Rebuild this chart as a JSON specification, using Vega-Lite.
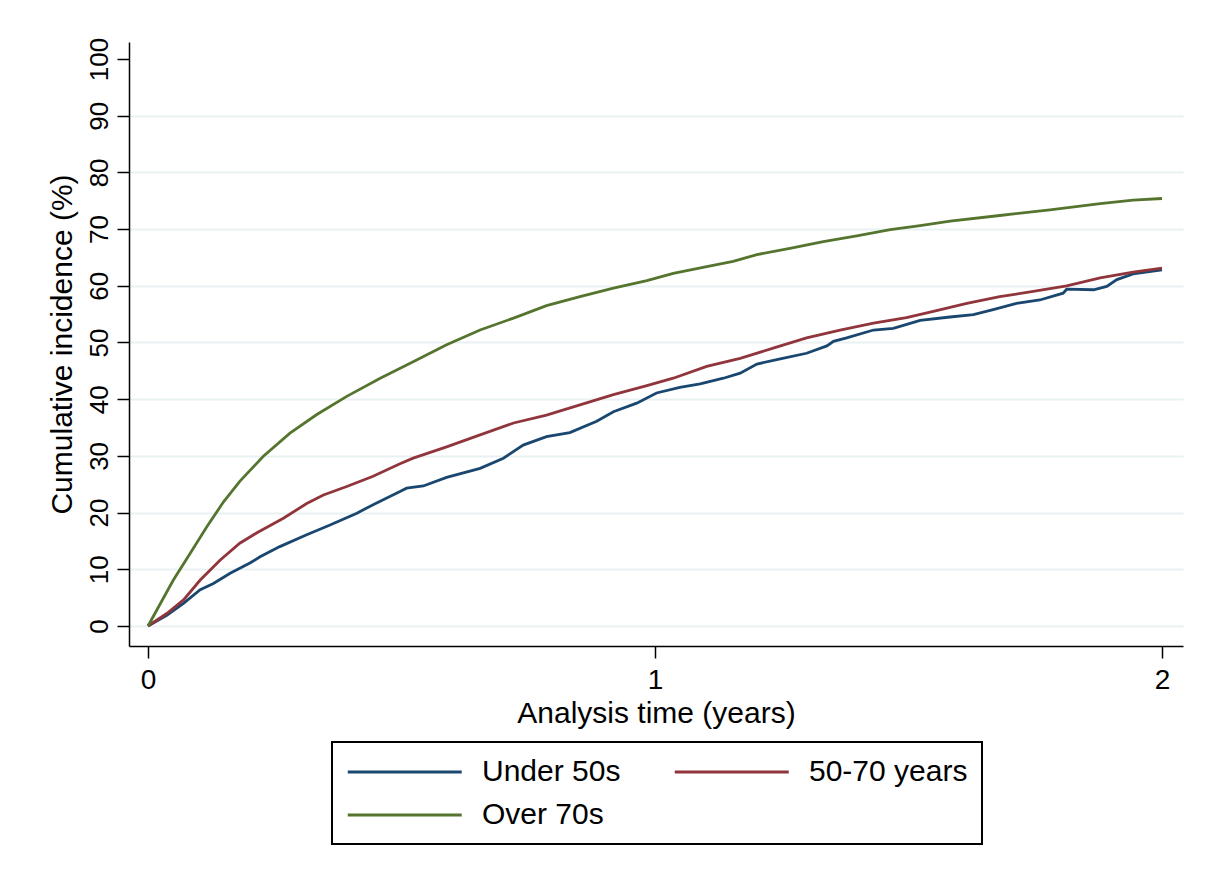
{
  "$schema": "https://vega.github.io/schema/vega-lite/v6.json",
  "width": 1054,
  "height": 604,
  "autosize": {"type": "none"},
  "padding": {"left": 129, "top": 42, "right": 29, "bottom": 234},
  "background": "white",
  "config": {
    "view": {"stroke": null},
    "font": "Liberation Sans",
    "axis": {"labelFont": "Liberation Sans", "titleFont": "Liberation Sans", "labelColor": "black", "titleColor": "black", "titleFontWeight": "normal"},
    "legend": {"labelFont": "Liberation Sans"}
  },
  "datasets": {
    "curves": [
      {"t": 0, "ci": 0, "g": "Under 50s"},
      {"t": 0.037, "ci": 1.9, "g": "Under 50s"},
      {"t": 0.070, "ci": 4.0, "g": "Under 50s"},
      {"t": 0.103, "ci": 6.4, "g": "Under 50s"},
      {"t": 0.129, "ci": 7.5, "g": "Under 50s"},
      {"t": 0.162, "ci": 9.3, "g": "Under 50s"},
      {"t": 0.201, "ci": 11.1, "g": "Under 50s"},
      {"t": 0.221, "ci": 12.2, "g": "Under 50s"},
      {"t": 0.260, "ci": 14.0, "g": "Under 50s"},
      {"t": 0.313, "ci": 16.1, "g": "Under 50s"},
      {"t": 0.359, "ci": 17.8, "g": "Under 50s"},
      {"t": 0.412, "ci": 19.9, "g": "Under 50s"},
      {"t": 0.444, "ci": 21.4, "g": "Under 50s"},
      {"t": 0.497, "ci": 23.7, "g": "Under 50s"},
      {"t": 0.510, "ci": 24.3, "g": "Under 50s"},
      {"t": 0.543, "ci": 24.7, "g": "Under 50s"},
      {"t": 0.589, "ci": 26.2, "g": "Under 50s"},
      {"t": 0.655, "ci": 27.8, "g": "Under 50s"},
      {"t": 0.701, "ci": 29.6, "g": "Under 50s"},
      {"t": 0.740, "ci": 31.9, "g": "Under 50s"},
      {"t": 0.786, "ci": 33.4, "g": "Under 50s"},
      {"t": 0.832, "ci": 34.1, "g": "Under 50s"},
      {"t": 0.885, "ci": 36.1, "g": "Under 50s"},
      {"t": 0.918, "ci": 37.8, "g": "Under 50s"},
      {"t": 0.964, "ci": 39.3, "g": "Under 50s"},
      {"t": 1.003, "ci": 41.1, "g": "Under 50s"},
      {"t": 1.049, "ci": 42.1, "g": "Under 50s"},
      {"t": 1.089, "ci": 42.7, "g": "Under 50s"},
      {"t": 1.135, "ci": 43.7, "g": "Under 50s"},
      {"t": 1.168, "ci": 44.6, "g": "Under 50s"},
      {"t": 1.201, "ci": 46.2, "g": "Under 50s"},
      {"t": 1.247, "ci": 47.1, "g": "Under 50s"},
      {"t": 1.299, "ci": 48.1, "g": "Under 50s"},
      {"t": 1.339, "ci": 49.4, "g": "Under 50s"},
      {"t": 1.352, "ci": 50.2, "g": "Under 50s"},
      {"t": 1.378, "ci": 50.8, "g": "Under 50s"},
      {"t": 1.431, "ci": 52.2, "g": "Under 50s"},
      {"t": 1.470, "ci": 52.5, "g": "Under 50s"},
      {"t": 1.523, "ci": 53.9, "g": "Under 50s"},
      {"t": 1.582, "ci": 54.5, "g": "Under 50s"},
      {"t": 1.628, "ci": 54.9, "g": "Under 50s"},
      {"t": 1.667, "ci": 55.8, "g": "Under 50s"},
      {"t": 1.713, "ci": 56.9, "g": "Under 50s"},
      {"t": 1.759, "ci": 57.5, "g": "Under 50s"},
      {"t": 1.805, "ci": 58.7, "g": "Under 50s"},
      {"t": 1.812, "ci": 59.4, "g": "Under 50s"},
      {"t": 1.865, "ci": 59.3, "g": "Under 50s"},
      {"t": 1.891, "ci": 59.9, "g": "Under 50s"},
      {"t": 1.911, "ci": 61.1, "g": "Under 50s"},
      {"t": 1.943, "ci": 62.1, "g": "Under 50s"},
      {"t": 2.0, "ci": 62.8, "g": "Under 50s"},
      {"t": 0, "ci": 0, "g": "50-70 years"},
      {"t": 0.037, "ci": 2.2, "g": "50-70 years"},
      {"t": 0.070, "ci": 4.6, "g": "50-70 years"},
      {"t": 0.103, "ci": 8.1, "g": "50-70 years"},
      {"t": 0.142, "ci": 11.6, "g": "50-70 years"},
      {"t": 0.181, "ci": 14.6, "g": "50-70 years"},
      {"t": 0.214, "ci": 16.4, "g": "50-70 years"},
      {"t": 0.267, "ci": 19.0, "g": "50-70 years"},
      {"t": 0.313, "ci": 21.6, "g": "50-70 years"},
      {"t": 0.346, "ci": 23.1, "g": "50-70 years"},
      {"t": 0.392, "ci": 24.6, "g": "50-70 years"},
      {"t": 0.444, "ci": 26.4, "g": "50-70 years"},
      {"t": 0.497, "ci": 28.6, "g": "50-70 years"},
      {"t": 0.523, "ci": 29.6, "g": "50-70 years"},
      {"t": 0.589, "ci": 31.6, "g": "50-70 years"},
      {"t": 0.655, "ci": 33.7, "g": "50-70 years"},
      {"t": 0.721, "ci": 35.8, "g": "50-70 years"},
      {"t": 0.786, "ci": 37.2, "g": "50-70 years"},
      {"t": 0.852, "ci": 39.0, "g": "50-70 years"},
      {"t": 0.918, "ci": 40.8, "g": "50-70 years"},
      {"t": 0.984, "ci": 42.4, "g": "50-70 years"},
      {"t": 1.036, "ci": 43.7, "g": "50-70 years"},
      {"t": 1.102, "ci": 45.8, "g": "50-70 years"},
      {"t": 1.168, "ci": 47.2, "g": "50-70 years"},
      {"t": 1.233, "ci": 49.0, "g": "50-70 years"},
      {"t": 1.299, "ci": 50.8, "g": "50-70 years"},
      {"t": 1.365, "ci": 52.2, "g": "50-70 years"},
      {"t": 1.431, "ci": 53.4, "g": "50-70 years"},
      {"t": 1.496, "ci": 54.4, "g": "50-70 years"},
      {"t": 1.549, "ci": 55.5, "g": "50-70 years"},
      {"t": 1.615, "ci": 56.9, "g": "50-70 years"},
      {"t": 1.680, "ci": 58.1, "g": "50-70 years"},
      {"t": 1.746, "ci": 59.0, "g": "50-70 years"},
      {"t": 1.812, "ci": 60.0, "g": "50-70 years"},
      {"t": 1.878, "ci": 61.4, "g": "50-70 years"},
      {"t": 1.943, "ci": 62.4, "g": "50-70 years"},
      {"t": 2.0, "ci": 63.1, "g": "50-70 years"},
      {"t": 0, "ci": 0, "g": "Over 70s"},
      {"t": 0.05, "ci": 8.1, "g": "Over 70s"},
      {"t": 0.083, "ci": 12.8, "g": "Over 70s"},
      {"t": 0.116, "ci": 17.5, "g": "Over 70s"},
      {"t": 0.149, "ci": 21.9, "g": "Over 70s"},
      {"t": 0.181, "ci": 25.5, "g": "Over 70s"},
      {"t": 0.227, "ci": 29.9, "g": "Over 70s"},
      {"t": 0.280, "ci": 34.0, "g": "Over 70s"},
      {"t": 0.333, "ci": 37.3, "g": "Over 70s"},
      {"t": 0.392, "ci": 40.5, "g": "Over 70s"},
      {"t": 0.458, "ci": 43.7, "g": "Over 70s"},
      {"t": 0.523, "ci": 46.6, "g": "Over 70s"},
      {"t": 0.589, "ci": 49.6, "g": "Over 70s"},
      {"t": 0.655, "ci": 52.2, "g": "Over 70s"},
      {"t": 0.721, "ci": 54.3, "g": "Over 70s"},
      {"t": 0.786, "ci": 56.5, "g": "Over 70s"},
      {"t": 0.852, "ci": 58.1, "g": "Over 70s"},
      {"t": 0.918, "ci": 59.6, "g": "Over 70s"},
      {"t": 0.984, "ci": 60.9, "g": "Over 70s"},
      {"t": 1.036, "ci": 62.2, "g": "Over 70s"},
      {"t": 1.102, "ci": 63.4, "g": "Over 70s"},
      {"t": 1.154, "ci": 64.3, "g": "Over 70s"},
      {"t": 1.201, "ci": 65.5, "g": "Over 70s"},
      {"t": 1.266, "ci": 66.6, "g": "Over 70s"},
      {"t": 1.332, "ci": 67.8, "g": "Over 70s"},
      {"t": 1.398, "ci": 68.8, "g": "Over 70s"},
      {"t": 1.464, "ci": 69.9, "g": "Over 70s"},
      {"t": 1.523, "ci": 70.6, "g": "Over 70s"},
      {"t": 1.582, "ci": 71.4, "g": "Over 70s"},
      {"t": 1.680, "ci": 72.4, "g": "Over 70s"},
      {"t": 1.779, "ci": 73.4, "g": "Over 70s"},
      {"t": 1.878, "ci": 74.5, "g": "Over 70s"},
      {"t": 1.943, "ci": 75.1, "g": "Over 70s"},
      {"t": 2.0, "ci": 75.4, "g": "Over 70s"}
    ]
  },
  "data": {"name": "curves"},
  "mark": {"type": "line", "strokeWidth": 2.8, "interpolate": "linear"},
  "encoding": {
    "x": {
      "field": "t", "type": "quantitative",
      "scale": {"domain": [-0.0375, 2.0414], "nice": false, "zero": false},
      "axis": {
        "title": "Analysis time (years)", "titleFontSize": 30, "titlePadding": 4,
        "values": [0, 1, 2], "tickCount": 3, "tickMinStep": 0.5, "format": ".0f",
        "labelFontSize": 28, "labelPadding": 8,
        "labelOverlap": false, "labelFlush": false,
        "grid": false, "domainColor": "black", "domainWidth": 1.5,
        "tickColor": "black", "tickWidth": 1.5, "tickSize": 12
      }
    },
    "y": {
      "field": "ci", "type": "quantitative",
      "scale": {"domain": [-3.53, 103], "nice": false, "zero": false},
      "axis": {
        "title": "Cumulative incidence (%)", "titleFontSize": 30, "titlePadding": 9,
        "values": [0, 10, 20, 30, 40, 50, 60, 70, 80, 90, 100], "tickCount": 11, "format": "d",
        "labelFontSize": 26, "labelAngle": 270, "labelAlign": "center", "labelBaseline": "alphabetic",
        "labelPadding": 10, "labelFlush": false, "labelOverlap": false,
        "grid": true, "gridWidth": 2,
        "gridColor": {"condition": {"test": "datum.value == 100", "value": "transparent"}, "value": "#e9f1f3"},
        "domainColor": "black", "domainWidth": 1.5,
        "tickColor": "black", "tickWidth": 1.5, "tickSize": 12
      }
    },
    "color": {
      "field": "g", "type": "nominal",
      "scale": {"domain": ["Under 50s", "50-70 years", "Over 70s"], "range": ["#1a476f", "#90353b", "#55752f"]},
      "legend": {
        "title": null, "orient": "none", "legendX": 203, "legendY": 700,
        "direction": "horizontal", "columns": 2,
        "symbolType": "M-1,0H7", "symbolSize": 812, "symbolStrokeWidth": 2.8,
        "symbolFillColor": "transparent",
        "labelFontSize": 30, "labelColor": "black", "labelOffset": 104,
        "columnPadding": 48, "rowPadding": 12,
        "padding": 14, "strokeColor": "black",
        "fillColor": "white", "labelLimit": 400,
        "encode": {"legend": {"update": {"strokeWidth": {"value": 2}}}}
      }
    }
  }
}
